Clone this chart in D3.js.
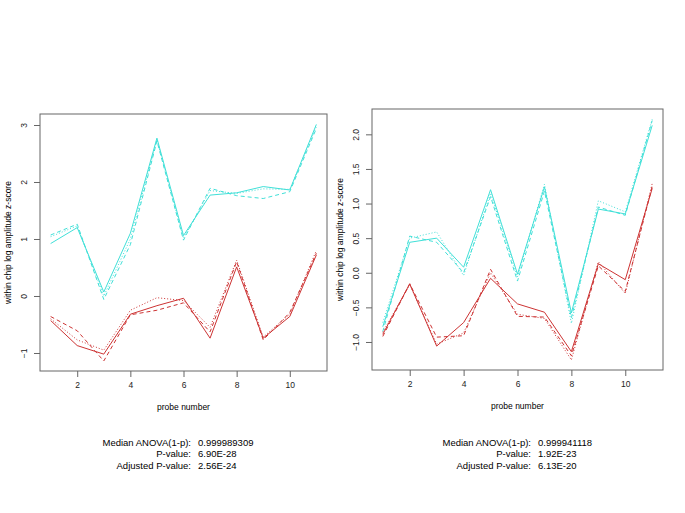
<!DOCTYPE html>
<html>
<head>
<meta charset="utf-8">
<script src="https://cdn.jsdelivr.net/npm/d3@7"></script>
<style>
  body { margin: 0; background: #fff; }
  svg { font-family: "Liberation Sans", Arial, sans-serif; }
  .tick text { fill: #222; }
</style>
</head>
<body>
<div id="chart"></div>
<script>
var width = 685,
    height = 513;

var probes = [1, 2, 3, 4, 5, 6, 7, 8, 9, 10, 11];
var xTicks = [2, 4, 6, 8, 10];

// left panel
var leftCyanSolid  = [0.92, 1.20, 0.07, 1.10, 2.77, 1.06, 1.77, 1.81, 1.92, 1.86, 3.01];
var leftCyanDashed = [1.07, 1.26, -0.06, 0.90, 2.72, 0.98, 1.89, 1.76, 1.71, 1.83, 2.94];
var leftCyanDotted = [1.04, 1.23, 0.00, 1.00, 2.74, 1.01, 1.85, 1.80, 1.88, 1.87, 2.97];
var leftRedSolid   = [-0.43, -0.87, -1.02, -0.32, -0.17, -0.04, -0.74, 0.51, -0.74, -0.36, 0.72];
var leftRedDashed  = [-0.36, -0.61, -1.14, -0.33, -0.25, -0.12, -0.63, 0.60, -0.77, -0.29, 0.75];
var leftRedDotted  = [-0.40, -0.77, -0.95, -0.25, -0.03, -0.08, -0.55, 0.63, -0.72, -0.32, 0.80];
var leftYTicks = [-1, 0, 1, 2, 3];
var leftStats = ["0.999989309", "6.90E-28", "2.56E-24"];

// right panel
var rightCyanSolid  = [-0.78, 0.44, 0.50, 0.08, 1.20, -0.02, 1.24, -0.58, 0.92, 0.85, 2.13];
var rightCyanDashed = [-0.85, 0.53, 0.44, 0.00, 1.10, -0.12, 1.18, -0.65, 0.95, 0.83, 2.20];
var rightCyanDotted = [-0.72, 0.50, 0.59, -0.04, 1.15, -0.06, 1.28, -0.73, 1.04, 0.88, 2.22];
var rightRedSolid   = [-0.89, -0.16, -1.06, -0.72, -0.08, -0.45, -0.57, -1.14, 0.13, -0.10, 1.22];
var rightRedDashed  = [-0.92, -0.16, -0.93, -0.91, 0.05, -0.63, -0.64, -1.20, 0.10, -0.27, 1.25];
var rightRedDotted  = [-0.86, -0.17, -1.03, -0.87, 0.00, -0.60, -0.66, -1.26, 0.16, -0.30, 1.29];
var rightYTicks = [-1.0, -0.5, 0.0, 0.5, 1.0, 1.5, 2.0];
var rightStats = ["0.999941118", "1.92E-23", "6.13E-20"];

var statLabels = ["Median ANOVA(1-p):", "P-value:", "Adjusted P-value:"];

var cyan = "#40e0d8",
    red = "#cd3333";

var svg = d3.select("#chart")
  .append("svg")
  .attr("width", width)
  .attr("height", height);

function drawPanel(p) {
  var x = d3.scaleLinear().domain([0.6, 11.4]).range([p.left, p.right]);
  var y = d3.scaleLinear().domain(p.yDomain).range([p.bottom, p.top]);

  var g = svg.append("g");

  var line = d3.line()
    .x(function(d, i) { return x(probes[i]); })
    .y(function(d) { return y(d); });

  p.series.forEach(function(s) {
    g.append("path")
      .datum(s.values)
      .attr("d", line)
      .style("fill", "none")
      .style("stroke", s.color)
      .style("stroke-width", "1px")
      .style("stroke-dasharray", s.dash);
  });

  // box
  g.append("rect")
    .attr("x", p.left)
    .attr("y", p.top)
    .attr("width", p.right - p.left)
    .attr("height", p.bottom - p.top)
    .style("fill", "none")
    .style("stroke", "#666")
    .style("stroke-width", "1px");

  // x axis
  var xAxis = g.append("g")
    .attr("transform", "translate(0," + p.bottom + ")")
    .call(d3.axisBottom(x).tickValues(xTicks).tickSizeInner(6).tickSizeOuter(0).tickPadding(5));
  xAxis.select(".domain").remove();

  // y axis
  var yAxis = g.append("g")
    .attr("transform", "translate(" + p.left + ",0)")
    .call(d3.axisLeft(y).tickValues(p.yTicks).tickSizeInner(6).tickSizeOuter(0)
      .tickFormat(p.yFormat));
  yAxis.select(".domain").remove();
  yAxis.selectAll(".tick text")
    .attr("x", null).attr("dy", null)
    .attr("transform", "translate(" + (-p.yLabelOff) + ",0) rotate(-90)")
    .style("text-anchor", "middle");

  g.selectAll(".tick line").style("stroke", "#666");
  g.selectAll(".tick text").style("font-size", "8.5px").style("font-family", "Liberation Sans, Arial, sans-serif");

  // axis titles
  g.append("text")
    .attr("x", (p.left + p.right) / 2)
    .attr("y", p.bottom + 39)
    .style("text-anchor", "middle")
    .style("font-size", "8.5px")
    .text("probe number");

  g.append("text")
    .attr("transform", "translate(" + (p.left - 29) + "," + ((p.top + p.bottom) / 2) + ") rotate(-90)")
    .style("text-anchor", "middle")
    .style("font-size", "8.5px")
    .text("within chip log amplitude z-score");

  // stats
  statLabels.forEach(function(lab, i) {
    g.append("text")
      .attr("x", p.statX)
      .attr("y", 446 + i * 11.3)
      .style("text-anchor", "end")
      .style("font-size", "9.5px")
      .text(lab);
    g.append("text")
      .attr("x", p.statX + 7)
      .attr("y", 446 + i * 11.3)
      .style("font-size", "9.5px")
      .text(p.stats[i]);
  });
}

drawPanel({
  left: 40, right: 327, top: 114, bottom: 371,
  yDomain: [-1.316, 3.193],
  yTicks: leftYTicks,
  yFormat: d3.format("d"),
  yLabelOff: 13,
  statX: 191,
  stats: leftStats,
  series: [
    { values: leftCyanSolid, color: cyan, dash: null },
    { values: leftCyanDashed, color: cyan, dash: "4,3" },
    { values: leftCyanDotted, color: cyan, dash: "1,2" },
    { values: leftRedSolid, color: red, dash: null },
    { values: leftRedDashed, color: red, dash: "4,3" },
    { values: leftRedDotted, color: red, dash: "1,2" }
  ]
});

drawPanel({
  left: 372, right: 663, top: 109, bottom: 370,
  yDomain: [-1.405, 2.366],
  yTicks: rightYTicks,
  yFormat: d3.format(".1f"),
  yLabelOff: 13,
  statX: 531,
  stats: rightStats,
  series: [
    { values: rightCyanSolid, color: cyan, dash: null },
    { values: rightCyanDashed, color: cyan, dash: "4,3" },
    { values: rightCyanDotted, color: cyan, dash: "1,2" },
    { values: rightRedSolid, color: red, dash: null },
    { values: rightRedDashed, color: red, dash: "4,3" },
    { values: rightRedDotted, color: red, dash: "1,2" }
  ]
});
</script>
</body>
</html>
